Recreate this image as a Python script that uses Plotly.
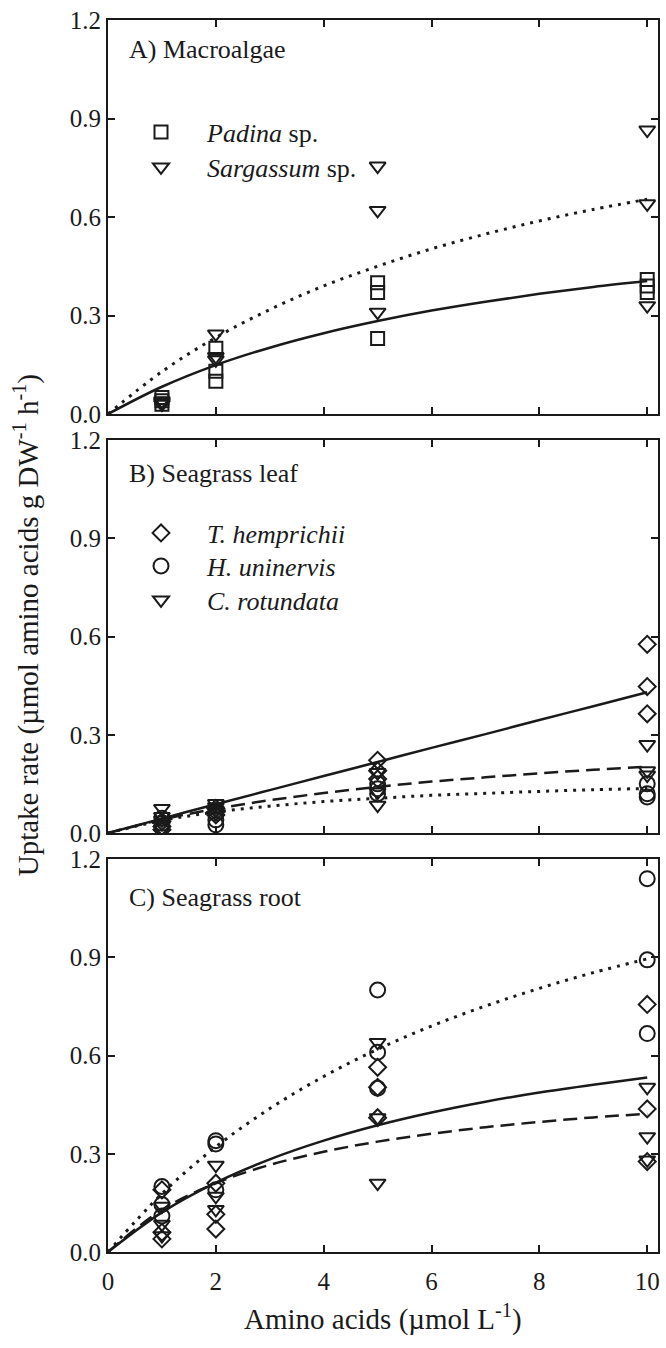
import plotly.graph_objects as go

# ---------------- data ----------------
x_rep = [1, 1, 1, 2, 2, 2, 5, 5, 5, 10, 10, 10]

# Panel A: Macroalgae
padina_y = [0.03, 0.04, 0.05, 0.20, 0.13, 0.10, 0.40, 0.37, 0.23, 0.41, 0.39, 0.37]
sargassum_y = [0.035, 0.03, 0.04, 0.244, 0.175, 0.165, 0.755, 0.62, 0.31, 0.865, 0.64, 0.33]

# Panel B: Seagrass leaf
leaf_thalassia_y = [0.01, 0.02, 0.035, 0.065, 0.075, 0.055, 0.222, 0.19, 0.165, 0.576, 0.447, 0.364]
leaf_halodule_y = [0.02, 0.03, 0.045, 0.025, 0.04, 0.06, 0.15, 0.135, 0.12, 0.15, 0.12, 0.11]
leaf_cymodocea_y = [0.075, 0.05, 0.04, 0.09, 0.08, 0.07, 0.185, 0.125, 0.085, 0.27, 0.19, 0.177]

# Panel C: Seagrass root
root_thalassia_y = [0.19, 0.06, 0.04, 0.21, 0.115, 0.07, 0.564, 0.503, 0.41, 0.756, 0.437, 0.276]
root_halodule_y = [0.20, 0.145, 0.11, 0.34, 0.33, 0.19, 0.80, 0.61, 0.50, 1.14, 0.892, 0.667]
root_cymodocea_y = [0.14, 0.085, 0.05, 0.265, 0.17, 0.13, 0.64, 0.41, 0.21, 0.503, 0.352, 0.281]

# fitted curves
fit_x = [0, 1, 2, 3, 4, 5, 6, 7, 8, 9, 10]
A_padina_fit = [0, 0.083, 0.149, 0.202, 0.246, 0.283, 0.315, 0.342, 0.366, 0.387, 0.405]
A_sargassum_fit = [0, 0.129, 0.233, 0.318, 0.390, 0.450, 0.503, 0.548, 0.588, 0.623, 0.654]
B_thalassia_fit = [0, 0.044, 0.088, 0.131, 0.174, 0.217, 0.260, 0.302, 0.345, 0.387, 0.430]
B_halodule_fit = [0, 0.038, 0.064, 0.082, 0.096, 0.106, 0.115, 0.121, 0.127, 0.132, 0.136]
B_cymodocea_fit = [0, 0.041, 0.074, 0.100, 0.122, 0.141, 0.157, 0.170, 0.182, 0.193, 0.202]
C_thalassia_fit = [0, 0.121, 0.212, 0.283, 0.340, 0.387, 0.426, 0.459, 0.487, 0.511, 0.533]
C_halodule_fit = [0, 0.178, 0.321, 0.438, 0.536, 0.619, 0.690, 0.751, 0.805, 0.853, 0.895]
C_cymodocea_fit = [0, 0.129, 0.210, 0.266, 0.306, 0.337, 0.361, 0.381, 0.397, 0.411, 0.422]

x_ticks = [0, 2, 4, 6, 8, 10]
y_ticks = [0.0, 0.3, 0.6, 0.9, 1.2]
y_ticktext = ["0.0", "0.3", "0.6", "0.9", "1.2"]

panel_labels = ["A) Macroalgae", "B) Seagrass leaf", "C) Seagrass root"]
x_title = "Amino acids (µmol L<sup>-1</sup>)"
y_title = "Uptake rate (µmol amino acids g DW<sup>-1</sup> h<sup>-1</sup>)"

# ---------------- style ----------------
INK = "#1a1a1a"
FONT = "Liberation Serif, Times New Roman, serif"
FS_TICK = 25
FS_TEXT = 26
FS_TITLE = 29
PAD = "\u00a0" * 4

W, H = 666, 1348
ML, MR, MT, MB = 108, 6, 20, 96
ph = H - MT - MB


def py2paper(py):
    return 1 - (py - MT) / ph


def mk(symbol, size):
    return dict(symbol=symbol, size=size, color=INK, line=dict(color=INK, width=2))


SYM = {
    "square": mk("square-open", 13),
    "tri": mk("triangle-down-open", 14),
    "diamond": mk("diamond-open", 13),
    "circle": mk("circle-open", 15),
}
DOT = "3px,6px"
DASH = "14px,7px"

fig = go.Figure()


def pts(y, sym, name, ax, legend=None):
    fig.add_trace(go.Scatter(
        x=x_rep, y=y, mode="markers", marker=SYM[sym], name=PAD + name,
        xaxis="x" + ax, yaxis="y" + ax,
        showlegend=legend is not None, legend=legend or "legend"))


def curve(y, dash, ax, width=2.5):
    fig.add_trace(go.Scatter(
        x=fit_x, y=y, mode="lines", line=dict(color=INK, width=width, dash=dash, shape="spline"),
        xaxis="x" + ax, yaxis="y" + ax, showlegend=False, hoverinfo="skip"))


# Panel A
curve(A_padina_fit, "solid", "")
curve(A_sargassum_fit, DOT, "", 3)
pts(padina_y, "square", "<i>Padina</i> sp.", "", "legend")
pts(sargassum_y, "tri", "<i>Sargassum</i> sp.", "", "legend2")

# Panel B
curve(B_thalassia_fit, "solid", "2")
curve(B_halodule_fit, DOT, "2", 3)
curve(B_cymodocea_fit, DASH, "2")
pts(leaf_thalassia_y, "diamond", "<i>T. hemprichii</i>", "2", "legend3")
pts(leaf_halodule_y, "circle", "<i>H. uninervis</i>", "2", "legend4")
pts(leaf_cymodocea_y, "tri", "<i>C. rotundata</i>", "2", "legend5")

# Panel C
curve(C_thalassia_fit, "solid", "3")
curve(C_halodule_fit, DOT, "3", 3)
curve(C_cymodocea_fit, DASH, "3")
pts(root_thalassia_y, "diamond", "T", "3")
pts(root_halodule_y, "circle", "H", "3")
pts(root_cymodocea_y, "tri", "C", "3")

panel_h = 393
gap = 26
domC = [0, panel_h / ph]
domB = [(panel_h + gap) / ph, (2 * panel_h + gap) / ph]
domA = [(2 * panel_h + 2 * gap) / ph, 1]


def xax(show, anchor):
    return dict(range=[0, 10.2], tickvals=x_ticks, showticklabels=show, ticks="inside",
                ticklen=7, tickwidth=2, tickcolor=INK, showline=True, linewidth=2,
                linecolor=INK, mirror="ticks", showgrid=False, zeroline=False,
                anchor=anchor, domain=[0, 1], ticklabelstandoff=6,
                tickfont=dict(size=FS_TICK, color=INK))


def yax(dom, anchor):
    return dict(range=[0, 1.2], tickvals=y_ticks, ticktext=y_ticktext, ticks="inside",
                ticklen=7, tickwidth=2, tickcolor=INK, showline=True, linewidth=2,
                linecolor=INK, mirror="ticks", showgrid=False, zeroline=False,
                anchor=anchor, domain=dom,
                tickfont=dict(size=FS_TICK, color=INK))


def leg(py):
    return dict(font=dict(size=FS_TEXT, color=INK, family=FONT), bgcolor="rgba(0,0,0,0)",
                xanchor="left", yanchor="middle", x=0.06, y=py2paper(py),
                itemclick=False, itemdoubleclick=False)


fig.update_layout(
    width=W, height=H, margin=dict(l=ML, r=MR, t=MT, b=MB),
    paper_bgcolor="white", plot_bgcolor="white",
    font=dict(family=FONT, size=FS_TICK, color=INK),
    xaxis=xax(False, "y"), yaxis=yax(domA, "x"),
    xaxis2=xax(False, "y2"), yaxis2=yax(domB, "x2"),
    xaxis3=xax(True, "y3"), yaxis3=yax(domC, "x3"),
    legend=leg(132), legend2=leg(167),
    legend3=leg(533), legend4=leg(566), legend5=leg(600),
    showlegend=True,
)

anns = []
for lab, ax, py in zip(panel_labels, ["", "2", "3"], [50, 473, 897]):
    anns.append(dict(text=lab, xref="paper", yref="paper",
                     x=(127 - ML) / (W - ML - MR), y=py2paper(py), xanchor="left",
                     yanchor="middle", showarrow=False,
                     font=dict(size=FS_TEXT, color=INK)))
anns.append(dict(text=y_title, xref="paper", yref="paper", x=-(ML - 26) / (W - ML - MR),
                 y=py2paper(625), textangle=-90, xanchor="center", yanchor="middle",
                 showarrow=False, font=dict(size=FS_TITLE, color=INK)))
anns.append(dict(text=x_title, xref="paper", yref="paper", x=0.5, y=py2paper(1317),
                 xanchor="center", yanchor="middle", showarrow=False,
                 font=dict(size=FS_TITLE, color=INK)))
fig.update_layout(annotations=anns)

fig.write_html("out.html", config={"displayModeBar": False},
               post_script="document.body.style.margin='0px';")
